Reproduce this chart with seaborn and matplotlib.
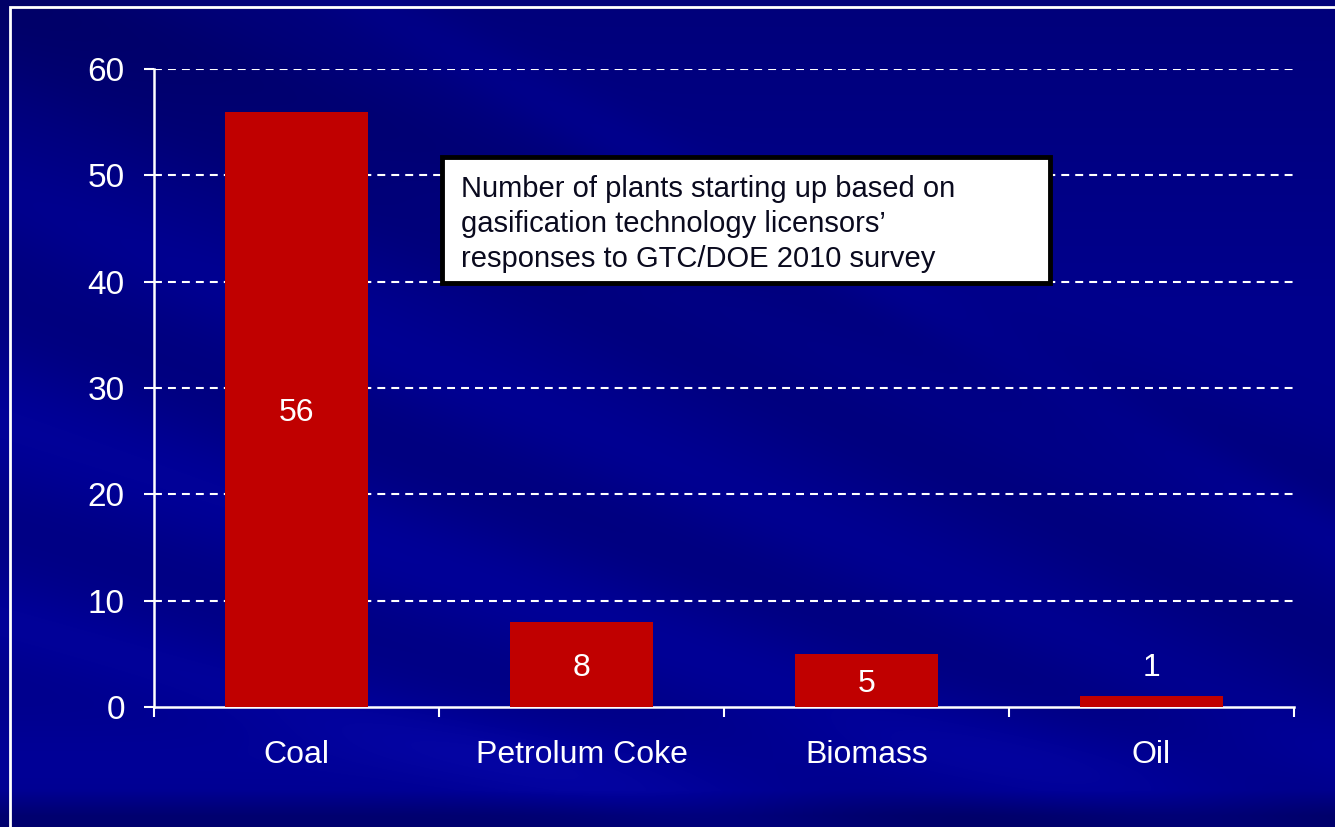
import numpy as np
import seaborn as sns
import matplotlib.pyplot as plt
from matplotlib.patches import Rectangle

categories = ["Coal", "Petrolum Coke", "Biomass", "Oil"]
plants = [56, 8, 5, 1]
yticks = [0, 10, 20, 30, 40, 50, 60]
note = "Number of plants starting up based on\ngasification technology licensors\u2019\nresponses to GTC/DOE 2010 survey"

sns.set_theme(style="white")
plt.rcParams['font.family'] = ['Liberation Sans', 'DejaVu Sans']

W, H = 1335, 827
fig = plt.figure(figsize=(W / 100, H / 100), dpi=100)

# background: navy with soft diagonal streaks
yy, xx = np.mgrid[0:H, 0:W].astype(float)
v = np.full((H, W), 0.55)
v -= 0.07 * np.clip(1 - yy / 300, 0, 1)
for y0, slope, wid, amp in [(40, 0.45, 60, -0.05), (190, 0.42, 45, 0.03),
                             (300, 0.38, 70, -0.05), (420, 0.33, 60, 0.05),
                             (520, 0.30, 50, -0.03), (-20, 0.38, 50, -0.05),
                             (620, 0.28, 40, 0.05), (-200, 0.55, 35, 0.04)]:
    d = yy - (y0 + slope * xx)
    v += amp * np.exp(-(d / wid) ** 2)
v += 0.04 * np.exp(-((yy - 760) / 45) ** 2)
v -= 0.12 * np.clip((yy - 790) / 25, 0, 1)
img = np.zeros((H, W, 3))
img[..., 2] = np.clip(v, 0, 1)
img[..., 0] = np.clip((v - 0.58) * 0.3, 0, 1)
img[..., 1] = np.clip((v - 0.58) * 0.3, 0, 1)
bg = fig.add_axes([0, 0, 1, 1], zorder=-10)
bg.imshow(img, aspect='auto', extent=[0, W, H, 0], interpolation='bilinear')
bg.set_xlim(0, W)
bg.set_ylim(H, 0)
bg.axis('off')

# white frame
fig.patches.append(Rectangle((10 / W, -0.1), 1.2, 1 - 7 / H + 0.1, transform=fig.transFigure,
                             fill=False, edgecolor='white', linewidth=2, zorder=-5))

ax = fig.add_axes([154 / W, 1 - 707 / H, (1294 - 154) / W, (707 - 69) / H])
ax.patch.set_alpha(0)
sns.barplot(x=categories, y=plants, color='#C00000', width=0.5, saturation=1,
            linewidth=0, ax=ax, zorder=3)
ax.set_xlim(-0.5, len(categories) - 0.5)
ax.set_ylim(0, 60)
ax.set_yticks(yticks)
for t in yticks[1:]:
    ax.axhline(t, color='white', linewidth=1.5, linestyle=(0, (3.8, 2.9)), zorder=1)

for s in ['top', 'right']:
    ax.spines[s].set_visible(False)
for s in ['left', 'bottom']:
    ax.spines[s].set_color('white')
    ax.spines[s].set_linewidth(1.8)

ax.set_xticks(np.arange(-0.5, len(categories)), minor=True)
ax.tick_params(axis='x', which='minor', length=7, width=1.5, color='white', direction='out', bottom=True)
ax.tick_params(axis='x', which='major', length=0, pad=24, labelsize=23, labelcolor='white')
ax.tick_params(axis='y', length=7, width=1.5, color='white', direction='out', left=True,
               pad=14, labelsize=24, labelcolor='white')
ax.set_xlabel("")
ax.set_ylabel("")

for i, val in enumerate(plants):
    ypos = val / 2 if val >= 3 else val + 3
    ax.text(i, ypos, str(val), ha='center', va='center_baseline', color='white', fontsize=23, zorder=5)

fig.patches.append(Rectangle((442 / W, 1 - 283 / H), (1050 - 442) / W, (283 - 157) / H,
                             transform=fig.transFigure, facecolor='white', edgecolor='black',
                             linewidth=3.5, zorder=6))
fig.text(461 / W, 1 - 175 / H, note, ha='left', va='top', fontsize=21, color='#0a0a1e',
         linespacing=1.31, zorder=7)

fig.savefig("out.png", dpi=100)
